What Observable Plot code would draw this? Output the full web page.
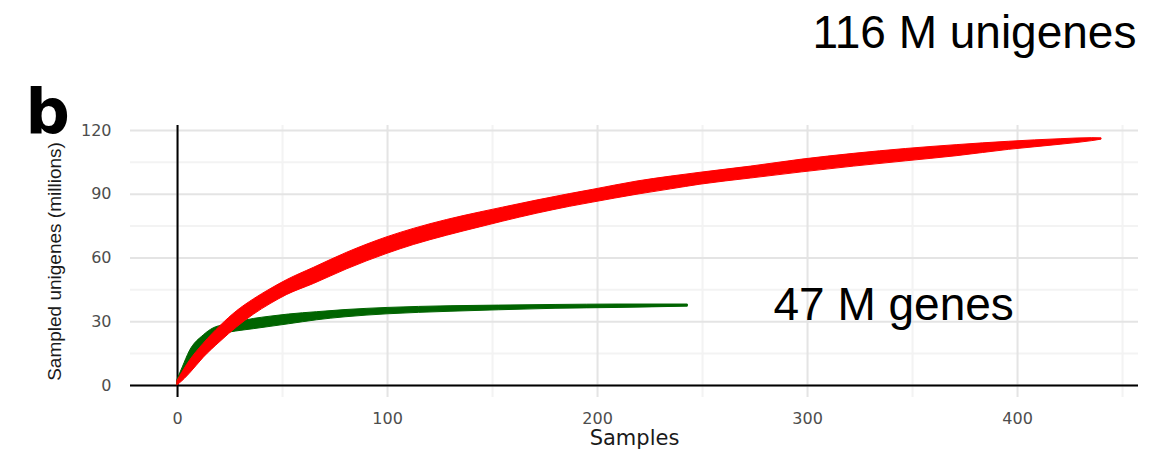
<!DOCTYPE html>
<html>
<head>
<meta charset="utf-8">
<script src="https://cdn.jsdelivr.net/npm/d3@7"></script>
<script src="https://cdn.jsdelivr.net/npm/@observablehq/plot@0.6"></script>
<style>
  html, body { margin: 0; padding: 0; background: #ffffff; }
  #chart { width: 1166px; height: 455px; }
</style>
</head>
<body>
<div id="chart"></div>
<script>
// Unigenes rarefaction (red): samples, band centre and half-spread of the replicate curves (millions)
const samplesUnigenes = [0, 1, 5.8, 12.5, 20.5, 28.4, 36.3, 44.3, 52, 65, 80.8, 100, 112.5, 128.4, 144, 155, 171, 187, 198, 219, 235, 249, 273, 297.5, 322, 347, 371, 396, 420.5, 435.6, 440];
const unigenes       = [1.2, 2.4, 8.5, 16.4, 24.3, 31.2, 36.9, 41.8, 46, 51.6, 58.6, 65.9, 69.9, 74.2, 77.9, 80.4, 83.9, 87.1, 89.1, 92.9, 95.3, 97.3, 100.2, 103.3, 106, 108.4, 110.5, 112.8, 114.6, 115.7, 116];
const unigenesSpread = [1.0, 1.5, 3.0, 3.3, 3.7, 3.8, 3.6, 3.5, 3.5, 3.8, 3.9, 3.9, 3.8, 3.7, 3.5, 3.3, 3.1, 3.0, 3.0, 3.1, 3.0, 2.8, 2.8, 3.0, 3.0, 2.9, 2.6, 1.9, 1.3, 0.7, 0.3];
// Genes rarefaction (green)
const samplesGenes = [0, 2.5, 5.8, 12.5, 17.2, 22, 30, 36.3, 44.3, 53, 66.5, 80, 100, 130, 153, 180, 210, 243];
const genes        = [1.5, 6, 12.5, 20.8, 24.6, 26.3, 27.9, 28.9, 30, 31.1, 32.6, 33.8, 35, 36, 36.5, 37, 37.3, 37.6];
const genesSpread  = [1.2, 2.5, 3.5, 2.8, 2.3, 2.1, 2.2, 2.4, 2.4, 2.3, 1.9, 1.7, 1.5, 1.3, 1.1, 0.9, 0.8, 0.5];

const xTicks = [0, 100, 200, 300, 400];
const xMinor = [50, 150, 250, 350, 450];
const yTicks = [0, 30, 60, 90, 120];
const yMinor = [15, 45, 75, 105];

const panelLabel = "b";
const xTitle = "Samples";
const yTitle = "Sampled unigenes (millions)";
const annotations = [
  {x: 379.5, y: 159, label: "116 M unigenes"},
  {x: 341, y: 30.6, label: "47 M genes"}
];

const redData = samplesUnigenes.map((s, i) => ({s, lo: unigenes[i] - unigenesSpread[i], hi: unigenes[i] + unigenesSpread[i]}));
const greenData = samplesGenes.map((s, i) => ({s, lo: genes[i] - genesSpread[i], hi: genes[i] + genesSpread[i]}));

const chart = Plot.plot({
  width: 1166,
  height: 455,
  marginLeft: 130,
  marginRight: 28,
  marginTop: 125,
  marginBottom: 58,
  style: {background: "#ffffff", color: "#4d4d4d", fontFamily: "'DejaVu Sans', sans-serif", overflow: "visible"},
  x: {domain: [-22.4, 457.6], label: null, axis: null},
  y: {domain: [-5.65, 122.35], label: null, axis: null},
  marks: [
    Plot.ruleY(yMinor, {stroke: "#f3f3f3", strokeWidth: 2}),
    Plot.ruleX(xMinor, {stroke: "#f3f3f3", strokeWidth: 2}),
    Plot.ruleY(yTicks, {stroke: "#e4e4e4", strokeWidth: 2}),
    Plot.ruleX(xTicks, {stroke: "#e4e4e4", strokeWidth: 2}),
    Plot.ruleY([0], {stroke: "#000000", strokeWidth: 2}),
    Plot.ruleX([0], {stroke: "#000000", strokeWidth: 2}),
    Plot.areaY(greenData, {x: "s", y1: "lo", y2: "hi", fill: "#006400", stroke: "#006400", strokeWidth: 1, curve: "monotone-x"}),
    Plot.areaY(redData, {x: "s", y1: "lo", y2: "hi", fill: "#ff0000", stroke: "#ff0000", strokeWidth: 1, curve: "monotone-x"}),
    // tick labels
    Plot.text(xTicks, {x: (d) => d, text: (d) => String(d), frameAnchor: "bottom", textAnchor: "middle", lineAnchor: "middle", dy: 21, fontSize: 16, fill: "#4d4d4d"}),
    Plot.text(yTicks, {y: (d) => d, text: (d) => String(d), frameAnchor: "left", textAnchor: "end", lineAnchor: "middle", dx: -19, fontSize: 16, fill: "#4d4d4d"}),
    // titles
    Plot.text([xTitle], {frameAnchor: "bottom", textAnchor: "middle", dy: 41, lineAnchor: "middle", fontSize: 21, fill: "#1a1a1a"}),
    Plot.text([yTitle], {frameAnchor: "left", textAnchor: "middle", rotate: -90, dx: -76, lineAnchor: "middle", fontSize: 19, fill: "#1a1a1a", fontFamily: "'Liberation Sans', Arial, sans-serif"}),
    Plot.text([panelLabel], {frameAnchor: "top-left", textAnchor: "start", lineAnchor: "bottom", dx: -105, dy: 7, fontSize: 62, fontWeight: "bold", fill: "#000000"}),
    Plot.text(annotations, {x: "x", y: "y", text: "label", textAnchor: "middle", lineAnchor: "bottom", fontSize: 46, fill: "#000000", fontFamily: "'Liberation Sans', Arial, sans-serif"})
  ]
});
document.getElementById("chart").appendChild(chart);
</script>
</body>
</html>
